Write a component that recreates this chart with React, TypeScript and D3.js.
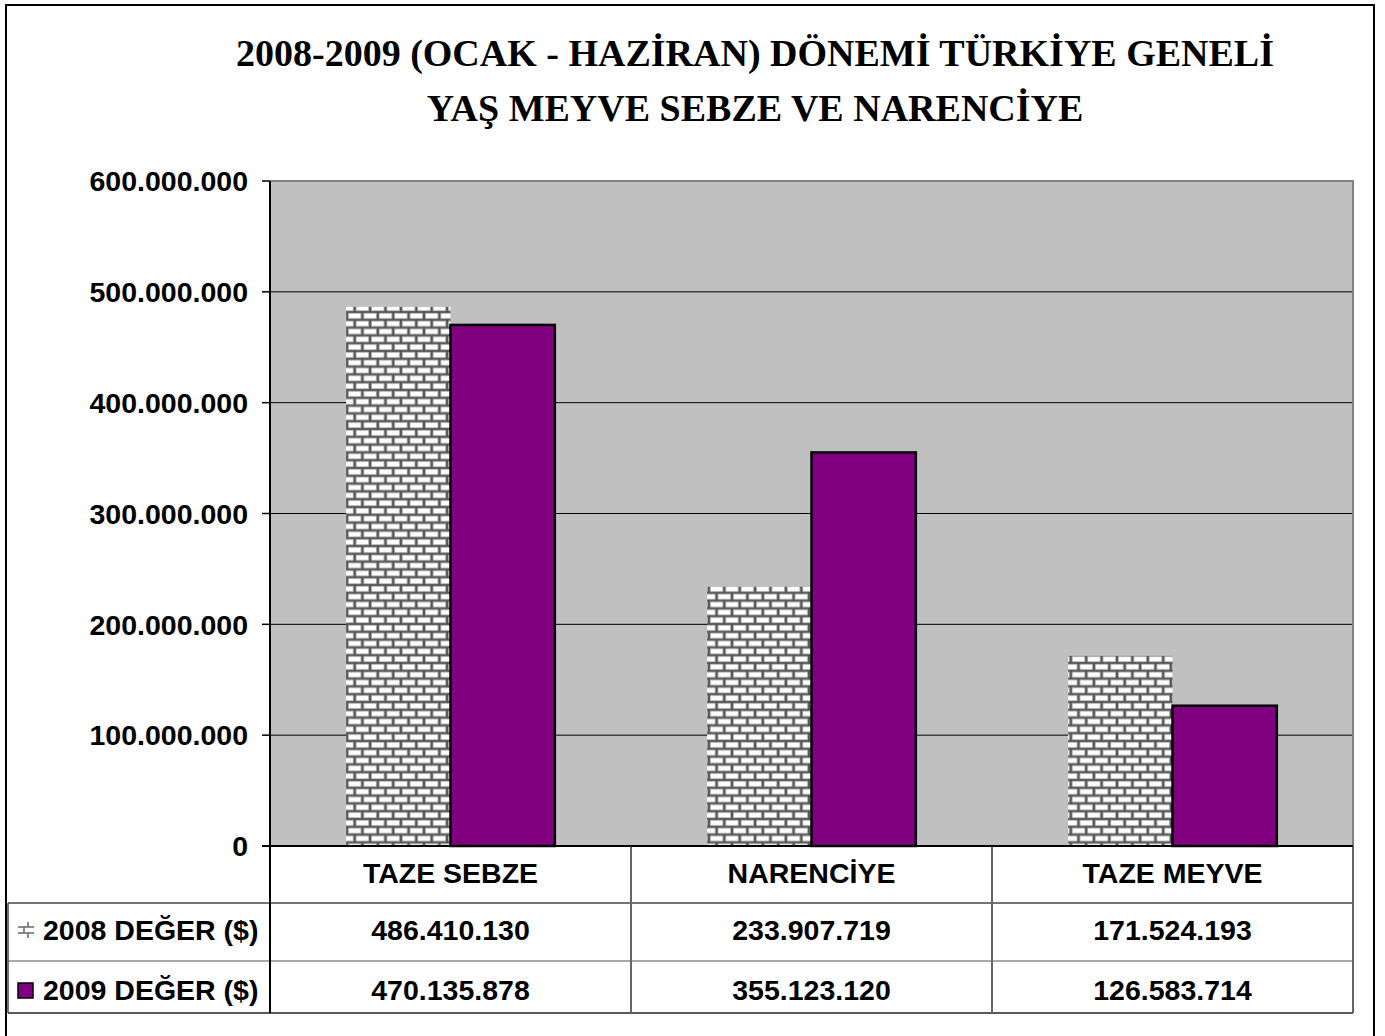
import { useEffect, useRef } from "react";
import * as d3 from "d3";

const categories = ["TAZE SEBZE", "NARENCİYE", "TAZE MEYVE"];
const values2008 = [486410130, 233907719, 171524193];
const values2009 = [470135878, 355123120, 126583714];
const seriesNames = ["2008 DEĞER ($)", "2009 DEĞER ($)"];
const yTicks = [0, 100000000, 200000000, 300000000, 400000000, 500000000, 600000000];
const titleLines = [
  "2008-2009 (OCAK - HAZİRAN) DÖNEMİ TÜRKİYE GENELİ",
  "YAŞ MEYVE SEBZE VE NARENCİYE",
];

const fmt = (v: number) => (v === 0 ? "0" : d3.format(",")(v).replace(/,/g, "."));

export default function App() {
  const svgRef = useRef<SVGSVGElement>(null);
  const width = 1385;
  const height = 1036;

  useEffect(() => {
    document.body.style.margin = "0";
    if (!svgRef.current) return;
    const svg = d3.select(svgRef.current);
    svg.selectAll("*").remove();

    const plot = { left: 270, right: 1353, top: 181, bottom: 846 };
    const sans = "'Liberation Sans', Arial, sans-serif";
    const fs = "28.5px";

    // brick pattern for 2008
    const defs = svg.append("defs");
    const pat = defs
      .append("pattern")
      .attr("id", "brick")
      .attr("patternUnits", "userSpaceOnUse")
      .attr("width", 15.4)
      .attr("height", 15.6)
      .attr("x", 347)
      .attr("y", 0);
    pat.append("rect").attr("width", 15.4).attr("height", 15.6).attr("fill", "#4a4a4a");
    const brick = (x: number, y: number, w: number) =>
      pat
        .append("rect")
        .attr("x", x)
        .attr("y", y)
        .attr("width", w)
        .attr("height", 5.6)
        .attr("fill", "#ffffff")
        .attr("stroke", "#9a9a9a")
        .attr("stroke-width", 0.8);
    brick(1.2, 1.1, 13);
    brick(-6.5, 8.9, 13);
    brick(8.9, 8.9, 13);

    // outer frame
    svg
      .append("rect")
      .attr("x", 6)
      .attr("y", 5)
      .attr("width", 1368)
      .attr("height", 1040)
      .attr("fill", "white")
      .attr("stroke", "black")
      .attr("stroke-width", 2);

    // title
    svg
      .append("g")
      .selectAll("text")
      .data(titleLines)
      .enter()
      .append("text")
      .attr("x", 755)
      .attr("y", (d, i) => 66 + i * 55)
      .attr("text-anchor", "middle")
      .style("font-family", "'Liberation Serif', 'Times New Roman', serif")
      .style("font-weight", "bold")
      .style("font-size", "38px")
      .text((d) => d);

    const y = d3.scaleLinear().domain([0, 600000000]).range([plot.bottom, plot.top]);
    const x0 = d3.scaleBand().domain(categories).range([plot.left, plot.right]);
    const x1 = d3
      .scaleBand()
      .domain(["2008", "2009"])
      .range([0, x0.bandwidth()])
      .paddingOuter(0.73)
      .paddingInner(0);

    // plot background
    svg
      .append("rect")
      .attr("x", plot.left)
      .attr("y", plot.top)
      .attr("width", plot.right - plot.left)
      .attr("height", plot.bottom - plot.top)
      .attr("fill", "#c0c0c0");

    // gridlines
    svg
      .append("g")
      .selectAll("line")
      .data(yTicks.slice(1, -1))
      .enter()
      .append("line")
      .attr("x1", plot.left)
      .attr("x2", plot.right)
      .attr("y1", (d) => y(d))
      .attr("y2", (d) => y(d))
      .attr("stroke", "black")
      .attr("stroke-width", 1);

    // border top/right
    svg
      .append("path")
      .attr("d", `M${plot.left},${plot.top}H${plot.right}V${plot.bottom}`)
      .attr("fill", "none")
      .attr("stroke", "#808080")
      .attr("stroke-width", 2);

    // bars
    const bars = svg.append("g");
    categories.forEach((c, i) => {
      const bx = x0(c)!;
      bars
        .append("rect")
        .attr("x", bx + x1("2008")!)
        .attr("y", y(values2008[i]))
        .attr("width", x1.bandwidth())
        .attr("height", y(0) - y(values2008[i]))
        .attr("fill", "url(#brick)");
      bars
        .append("rect")
        .attr("x", bx + x1("2009")!)
        .attr("y", y(values2009[i]))
        .attr("width", x1.bandwidth())
        .attr("height", y(0) - y(values2009[i]))
        .attr("fill", "#800080")
        .attr("stroke", "black")
        .attr("stroke-width", 2.5);
    });

    // y axis
    const yAxis = svg.append("g");
    yAxis
      .append("line")
      .attr("x1", plot.left)
      .attr("x2", plot.left)
      .attr("y1", plot.top)
      .attr("y2", plot.bottom)
      .attr("stroke", "black")
      .attr("stroke-width", 2);
    const tick = yAxis.selectAll(".tick").data(yTicks).enter().append("g");
    tick
      .append("line")
      .attr("x1", plot.left - 8)
      .attr("x2", plot.left)
      .attr("y1", (d) => y(d))
      .attr("y2", (d) => y(d))
      .attr("stroke", "black")
      .attr("stroke-width", 1.5);
    tick
      .append("text")
      .attr("x", 248)
      .attr("y", (d) => y(d))
      .attr("dy", "0.36em")
      .attr("text-anchor", "end")
      .style("font-family", sans)
      .style("font-weight", "bold")
      .style("font-size", fs)
      .text((d) => fmt(d));

    // data table
    const rows = [plot.bottom, 903, 961, 1013];
    const table = svg.append("g");
    table
      .append("line")
      .attr("x1", 8)
      .attr("x2", plot.right)
      .attr("y1", rows[1])
      .attr("y2", rows[1])
      .attr("stroke", "#444")
      .attr("stroke-width", 1.5);
    table
      .append("line")
      .attr("x1", 8)
      .attr("x2", plot.right)
      .attr("y1", rows[2])
      .attr("y2", rows[2])
      .attr("stroke", "#555")
      .attr("stroke-width", 1.2);
    table
      .append("line")
      .attr("x1", 8)
      .attr("x2", plot.right)
      .attr("y1", rows[3])
      .attr("y2", rows[3])
      .attr("stroke", "#222")
      .attr("stroke-width", 1.5);
    table
      .append("line")
      .attr("x1", 8)
      .attr("x2", 8)
      .attr("y1", rows[1])
      .attr("y2", rows[3])
      .attr("stroke", "#444")
      .attr("stroke-width", 1.5);
    const colEdges = [plot.left, ...categories.map((c) => x0(c)! + x0.bandwidth())];
    table
      .selectAll(".col")
      .data(colEdges)
      .enter()
      .append("line")
      .attr("x1", (d) => d)
      .attr("x2", (d) => d)
      .attr("y1", plot.bottom)
      .attr("y2", rows[3])
      .attr("stroke", (d, i) => (i === 0 ? "black" : "#666"))
      .attr("stroke-width", 2);
    // x axis line
    table
      .append("line")
      .attr("x1", plot.left - 8)
      .attr("x2", plot.right)
      .attr("y1", plot.bottom)
      .attr("y2", plot.bottom)
      .attr("stroke", "black")
      .attr("stroke-width", 2);

    const cellText = (tx: number, ty: number, s: string) =>
      table
        .append("text")
        .attr("x", tx)
        .attr("y", ty)
        .attr("dy", "0.36em")
        .attr("text-anchor", "middle")
        .style("font-family", sans)
        .style("font-weight", "bold")
        .style("font-size", fs)
        .text(s);

    // legend keys + series names
    const ry = [(rows[1] + rows[2]) / 2 - 2, (rows[2] + rows[3]) / 2 + 3];

    categories.forEach((c, i) => {
      const cx = x0(c)! + x0.bandwidth() / 2;
      cellText(cx, (rows[0] + rows[1]) / 2 - 2, c);
      cellText(cx, ry[0], fmt(values2008[i]));
      cellText(cx, ry[1], fmt(values2009[i]));
    });

    seriesNames.forEach((s, i) => {
      table
        .append("text")
        .attr("x", 43)
        .attr("y", ry[i])
        .attr("dy", "0.36em")
        .style("font-family", sans)
        .style("font-weight", "bold")
        .style("font-size", fs)
        .text(s);
    });
    // 2008 key: tiny brick glyph
    const k = table.append("g").attr("stroke", "#666").attr("stroke-width", 1.5);
    k.append("line").attr("x1", 18).attr("x2", 34).attr("y1", ry[0] - 3).attr("y2", ry[0] - 3);
    k.append("line").attr("x1", 18).attr("x2", 34).attr("y1", ry[0] + 3).attr("y2", ry[0] + 3);
    k.append("line").attr("x1", 28).attr("x2", 28).attr("y1", ry[0] - 8).attr("y2", ry[0] - 3);
    k.append("line").attr("x1", 24).attr("x2", 24).attr("y1", ry[0] - 3).attr("y2", ry[0] + 3);
    k.append("line").attr("x1", 28).attr("x2", 28).attr("y1", ry[0] + 3).attr("y2", ry[0] + 8);
    // 2009 key
    table
      .append("rect")
      .attr("x", 18)
      .attr("y", ry[1] - 7)
      .attr("width", 15)
      .attr("height", 15)
      .attr("fill", "#800080")
      .attr("stroke", "black")
      .attr("stroke-width", 1.5);
  }, []);

  return (
    <div>
      <svg ref={svgRef} width={width} height={height} style={{ display: "block" }}></svg>
    </div>
  );
}
